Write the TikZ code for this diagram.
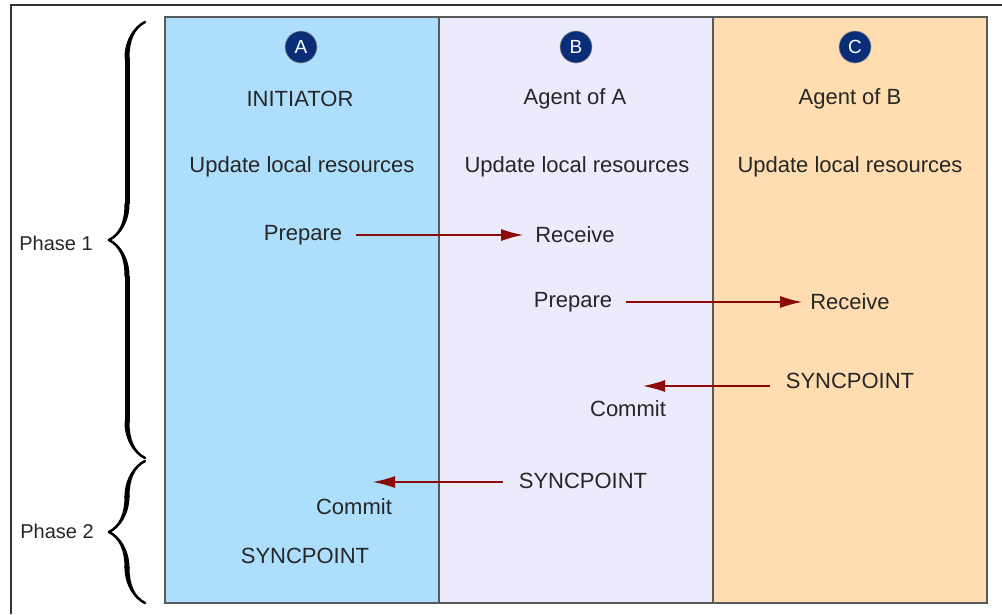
\documentclass[tikz,border=0pt]{standalone}
\usepackage{fontspec}
\setmainfont{Liberation Sans}
\usetikzlibrary{arrows.meta,decorations.pathreplacing,calligraphy}

\definecolor{colA}{RGB}{173,223,252}
\definecolor{colB}{RGB}{235,235,252}
\definecolor{colC}{RGB}{255,221,176}
\definecolor{badgeblue}{RGB}{10,45,120}
\definecolor{msgred}{RGB}{140,10,10}

\begin{document}
\begin{tikzpicture}[
    x=1pt, y=-1pt,
    every node/.style={font=\fontsize{22}{26}\selectfont, text=black!85, inner sep=2pt},
    colbox/.style={draw=black!65, line width=2.2pt},
    badge/.style={circle, fill=badgeblue, draw=black!40, line width=0.6pt, minimum size=32pt, inner sep=0pt, text=white, font=\fontsize{19}{19}\selectfont},
    msg/.style={draw=msgred, line width=1.3pt, -{Latex[length=22pt,width=12pt]}},
    phase/.style={decorate, decoration={calligraphic brace, amplitude=36pt, aspect=0.5}, line width=5pt, pen colour=black},
    phaselabel/.style={font=\fontsize{20}{24}\selectfont}
]
\useasboundingbox (0,0) rectangle (1002,614);

% frame
\draw[line width=1.2pt, black!80] (11,614) -- (11,5) -- (1002,5);

% columns
\draw[colbox, fill=colA] (165,17) rectangle (439,603);
\draw[colbox, fill=colB] (439,17) rectangle (713,603);
\draw[colbox, fill=colC] (713,17) rectangle (987,603);

% headers
\node[badge] (badgeA) at (301,47) {A};
\node[badge] (badgeB) at (576,47) {B};
\node[badge] (badgeC) at (855,47) {C};
\node (initA) at (300,99) {INITIATOR};
\node (agentB) at (575,99) {Agent of A};
\node (agentC) at (850,99) {Agent of B};
\node (updA) at (302,167) {Update local resources};
\node (updB) at (577,167) {Update local resources};
\node (updC) at (850,167) {Update local resources};

% phase 1
\node (prepA) at (303,235) {Prepare};
\node (recvB) at (575,235) {Receive};
\node (prepB) at (573,302) {Prepare};
\node (recvC) at (850,302) {Receive};
\node (syncC) at (850,381) {SYNCPOINT};
\node (commitB) at (628,409) {Commit};
\coordinate (endB) at (643,386);

% phase 2
\node (syncB) at (583,481) {SYNCPOINT};
\node (commitA) at (354,507) {Commit};
\coordinate (endA) at (373,482);
\node (syncA) at (305,556) {SYNCPOINT};

\draw[msg, shorten <=12pt, shorten >=10pt] (prepA.east) -- (recvB.west);
\draw[msg, shorten <=12pt, shorten >=6pt] (prepB.east) -- (recvC.west);
\draw[msg, shorten <=14pt] (syncC.west |- endB) -- (endB);
\draw[msg, shorten <=14pt] (syncB.west |- endA) -- (endA);

% braces
\coordinate (ph1top) at (145,22);
\coordinate (ph1bot) at (145,458);
\coordinate (ph2top) at (145,461);
\coordinate (ph2bot) at (145,603);
\draw[phase] (ph1bot) -- (ph1top);
\draw[phase] (ph2bot) -- (ph2top);
\node[phaselabel] (phase1) at (56,243) {Phase 1};
\node[phaselabel] (phase2) at (57,531) {Phase 2};
\end{tikzpicture}
\end{document}
